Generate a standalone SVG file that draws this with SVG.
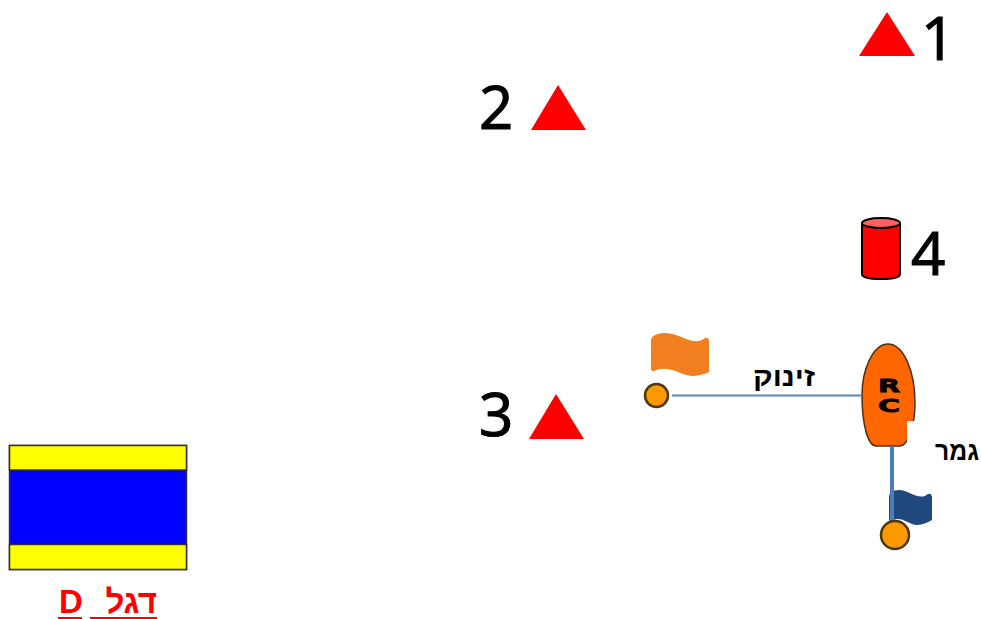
<svg xmlns="http://www.w3.org/2000/svg" width="981" height="619" viewBox="0 0 981 619">
<style>
.num{font-family:"Open Sans","DejaVu Sans",sans-serif;font-size:60px;fill:#000;stroke:#000;stroke-width:1.2}
.mark{fill:#f00}
.heb{font-family:"Liberation Sans","DejaVu Sans",sans-serif;font-weight:700;font-size:27px;fill:#000}
.red{font-family:"Liberation Sans","DejaVu Sans",sans-serif;font-weight:700;font-size:33px;fill:#f00}
.rule{stroke:#f00;stroke-width:2}
.buoy{fill:#f90;stroke:#4a3a10;stroke-width:2.5}
.rc{font-family:"DejaVu Sans",sans-serif;font-weight:700;font-size:18px;stroke:#000;stroke-width:.8}
</style>
<rect width="981" height="619" fill="#fff"/>
<g id="mark-1"><polygon class="mark" points="887,12 915,56 859,56"/><text class="num" x="921" y="60">1</text></g>
<g id="mark-2"><polygon class="mark" points="558,85 586,130 531,130"/><text class="num" x="479" y="129">2</text></g>
<g id="mark-3"><polygon class="mark" points="556,394 584,439 529,439"/><text class="num" x="479" y="436">3</text></g>
<g id="mark-4">
<path d="M862 224V274Q862 279 881 279Q900 279 900 274V224Z" fill="#f00" stroke="#000" stroke-width="2"/>
<ellipse cx="881" cy="223" rx="19" ry="5" fill="#ff6060" stroke="#000" stroke-width="2"/>
<text class="num" x="911" y="275">4</text>
</g>
<g id="start-flag"><path d="M651 341Q651 334 664 333C680 333 690 345 702 340Q708 335 709 341V372Q700 376 692 376C680 375 668 364 654 371Q651 372 651 368Z" fill="#f17f1f"/></g>
<g id="start-buoy"><circle class="buoy" cx="656.500" cy="395.500" r="11.500"/></g>
<text class="heb" id="start-label" x="815" y="386" direction="rtl" textLength="62" lengthAdjust="spacingAndGlyphs">זינוק</text>
<g id="rc-boat">
<path d="M862 395C862 370 873 344 888 344C903 344 915 370 915 403C915 425 908 446 900 446H876C868 446 862 425 862 395Z" fill="#f60" stroke="#4a3018" stroke-width="1.500"/>
<rect x="907" y="421" width="12" height="28" fill="#fff"/>
<text class="rc" x="889" y="392" text-anchor="middle" textLength="22" lengthAdjust="spacingAndGlyphs">R</text>
<text class="rc" x="889" y="412" text-anchor="middle" textLength="22" lengthAdjust="spacingAndGlyphs">C</text>
</g>
<text class="heb" id="finish-label" x="979" y="460" direction="rtl" textLength="44" lengthAdjust="spacingAndGlyphs">גמר</text>
<g id="finish-flag"><path d="M889 497Q889 490 899 490C908 490 916 499 925 496Q931 491 932 497V520Q924 525 916 525C908 524 900 515 892 521Q889 522 889 518Z" fill="#1f497d"/></g>
<g id="finish-buoy"><circle class="buoy" cx="895" cy="535" r="14"/></g>
<g id="connectors">
<line x1="672" y1="395.500" x2="862" y2="395.500" stroke="#5a86bd" stroke-width="2"/>
<line x1="892" y1="446" x2="892" y2="520" stroke="#4a7ebb" stroke-width="4"/>
</g>
<g id="flag-d">
<rect x="9.500" y="445.500" width="177" height="124" fill="#00f" stroke="#333" stroke-width="1.500"/>
<rect x="9.500" y="445.500" width="177" height="24.500" fill="#ff0" stroke="#333" stroke-width="1.500"/>
<rect x="9.500" y="544.500" width="177" height="25" fill="#ff0" stroke="#333" stroke-width="1.500"/>
</g>
<g id="flag-d-label">
<text class="red" x="59" y="613">D</text>
<text class="red" x="157" y="613" direction="rtl">דגל</text>
<line class="rule" x1="58" y1="618" x2="82" y2="618"/>
<line class="rule" x1="90" y1="618" x2="157" y2="618"/>
</g>
</svg>
